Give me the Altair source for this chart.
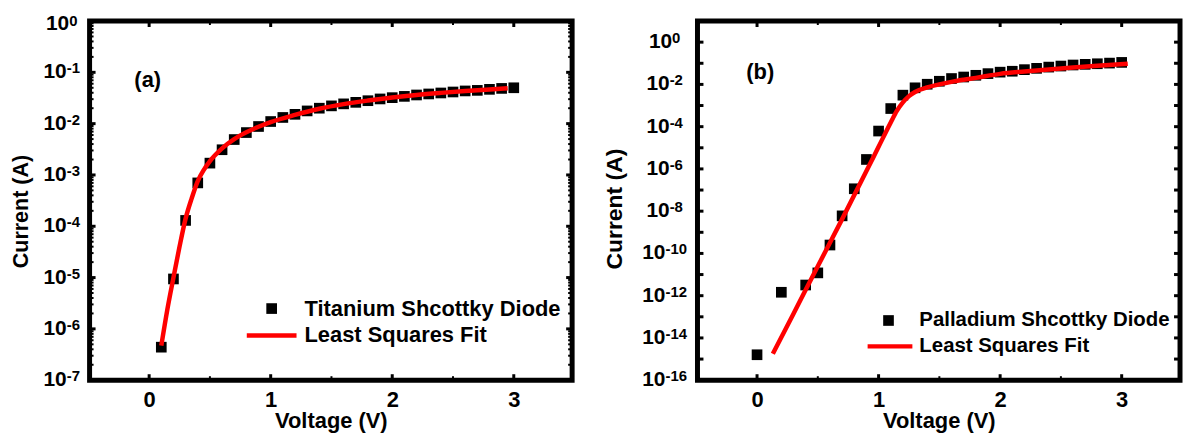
import math
import altair as alt
import pandas as pd

FONT = "Liberation Sans"

# ---------------- Panel (a): Titanium ----------------
ti_v = [0.1, 0.2, 0.3, 0.4, 0.5, 0.6, 0.7, 0.8, 0.9, 1.0,
        1.1, 1.2, 1.3, 1.4, 1.5, 1.6, 1.7, 1.8, 1.9, 2.0,
        2.1, 2.2, 2.3, 2.4, 2.5, 2.6, 2.7, 2.8, 2.9, 3.0]
ti_i = [4.4e-7, 9.4e-6, 1.3e-4, 7.0e-4, 1.7e-3, 3.1e-3, 4.9e-3, 6.7e-3, 8.8e-3, 1.10e-2,
        1.32e-2, 1.52e-2, 1.77e-2, 2.00e-2, 2.22e-2, 2.43e-2, 2.60e-2, 2.80e-2, 3.03e-2, 3.21e-2,
        3.40e-2, 3.62e-2, 3.79e-2, 3.96e-2, 4.14e-2, 4.34e-2, 4.45e-2, 4.66e-2, 4.86e-2, 5.0e-2]
ti_fit_v = [0.1, 0.15, 0.2, 0.25, 0.3, 0.35, 0.4, 0.45, 0.5, 0.6, 0.7, 0.8, 0.9, 1.0,
            1.2, 1.4, 1.6, 1.8, 2.0, 2.2, 2.4, 2.6, 2.8, 2.95]
ti_fit_i = [4.7e-7, 2.4e-6, 1.0e-5, 4.0e-5, 1.41e-4, 3.5e-4, 7.6e-4, 1.26e-3, 1.86e-3, 3.3e-3,
            5.0e-3, 6.8e-3, 8.7e-3, 1.07e-2, 1.48e-2, 1.95e-2, 2.4e-2, 2.82e-2, 3.24e-2, 3.63e-2,
            3.98e-2, 4.32e-2, 4.62e-2, 4.9e-2]

# ---------------- Panel (b): Palladium ----------------
pd_v = [0.0, 0.2, 0.4, 0.5, 0.6, 0.7, 0.8, 0.9, 1.0,
        1.1, 1.2, 1.3, 1.4, 1.5, 1.6, 1.7, 1.8, 1.9, 2.0,
        2.1, 2.2, 2.3, 2.4, 2.5, 2.6, 2.7, 2.8, 2.9, 3.0]
pd_i = [1.6e-15, 1.45e-12, 3.2e-12, 1.2e-11, 2.5e-10, 6.0e-9, 1.15e-7, 2.8e-6, 6.2e-5,
        7.2e-4, 3.1e-3, 6.9e-3, 1.02e-2, 1.41e-2, 1.9e-2, 2.24e-2, 2.7e-2, 3.24e-2, 3.8e-2,
        4.2e-2, 5.0e-2, 5.75e-2, 6.6e-2, 7.4e-2, 8.3e-2, 8.9e-2, 9.5e-2, 1.02e-1, 1.1e-1]
pd_fit_v = [0.13, 0.3, 0.5, 0.7, 0.9, 1.0, 1.1, 1.15, 1.2, 1.25, 1.3, 1.4, 1.5, 1.6,
            1.7, 1.8, 2.0, 2.2, 2.4, 2.6, 2.8, 3.05]
pd_fit_i = [1.78e-15, 1.41e-13, 2.5e-11, 4.2e-9, 7.9e-7, 1.12e-5, 1.58e-4, 5.6e-4, 1.41e-3,
            2.8e-3, 4.4e-3, 7.2e-3, 1.0e-2, 1.32e-2, 1.66e-2, 2.04e-2, 3.16e-2, 4.07e-2,
            5.1e-2, 6.3e-2, 7.6e-2, 9.5e-2]

# ---------------- Tick labels / texts ----------------
x_tick_labels = [0, 1, 2, 3]
x_minor_ticks = [0.5, 1.5, 2.5]
a_exponents = ["0", "-1", "-2", "-3", "-4", "-5", "-6", "-7"]
b_exponents = ["0", "-2", "-4", "-6", "-8", "-10", "-12", "-14", "-16"]
b_odd_exponents = [1, -1, -3, -5, -7, -9, -11, -13, -15]
a_legend = ["Titanium Shcottky Diode", "Least Squares Fit"]
b_legend = ["Palladium Shcottky Diode", "Least Squares Fit"]
panel_tags = ["(a)", "(b)"]
x_title = "Voltage (V)"
y_title = "Current (A)"

W, H = 485, 361
BASE_FS, EXP_FS = 21, 15


def panel(v, i, fv, fi, ydom, exps, odd_exps, minor, label_c, top_dy, tag, tag_xy,
          legend, leg, leg_fs, title_pad, title_y, title_fs):
    xs = alt.Scale(domain=[-0.49, 3.48], nice=False, zero=False)
    ys = alt.Scale(type="log", domain=ydom, nice=False)
    xax = alt.Axis(values=x_tick_labels, ticks=False, domain=False, grid=False,
                   labelPadding=9, titlePadding=1, format="d")
    yax = alt.Axis(labels=False, ticks=False, domain=False, grid=False,
                   titlePadding=title_pad, titleY=title_y, titleFontSize=title_fs)

    def X(f):
        return alt.X(f, scale=xs, axis=xax, title=x_title)

    def Y(f):
        return alt.Y(f, scale=ys, axis=yax, title=y_title)

    major_vals = [10.0 ** int(e) for e in exps] + [10.0 ** e for e in odd_exps]
    major_vals = [m for m in major_vals if ydom[0] <= m <= ydom[1]]
    majors = pd.DataFrame({"i": major_vals})
    layers = []

    # data points
    pts = pd.DataFrame({"v": v, "i": i})
    layers.append(alt.Chart(pts).mark_square(size=115, color="black", opacity=1).encode(
        x=X("v:Q"), y=Y("i:Q")))
    fit = pd.DataFrame({"v": fv, "i": fi})
    layers.append(alt.Chart(fit).mark_line(color="#ff0000", strokeWidth=4.5,
                                           interpolate="monotone").encode(
        x=X("v:Q"), y=Y("i:Q")))

    # major y ticks (left & right, pointing inward)
    for x0, x1 in [(0, 6), (W - 6, W)]:
        layers.append(alt.Chart(majors).mark_rule(color="black", strokeWidth=3).encode(
            y=Y("i:Q"), x=alt.value(x0), x2=alt.value(x1)))
    if minor:
        mv = []
        lo = int(round(math.log10(ydom[0])))
        hi = int(round(math.log10(ydom[1])))
        for d in range(lo, hi):
            for k in range(2, 10):
                mv.append(k * 10.0 ** d)
        minors = pd.DataFrame({"i": mv})
        for x0, x1 in [(0, 4), (W - 4, W)]:
            layers.append(alt.Chart(minors).mark_rule(color="black", strokeWidth=2).encode(
                y=Y("i:Q"), x=alt.value(x0), x2=alt.value(x1)))
    # x ticks top & bottom
    xmaj = pd.DataFrame({"v": x_tick_labels})
    xmin = pd.DataFrame({"v": x_minor_ticks})
    for df, ln, sw in [(xmaj, 6, 3), (xmin, 4, 2)]:
        for y0, y1 in [(0, ln), (H - ln, H)]:
            layers.append(alt.Chart(df).mark_rule(color="black", strokeWidth=sw).encode(
                x=X("v:Q"), y=alt.value(y0), y2=alt.value(y1)))

    # y tick labels: "10" + superscript exponent, centred on label_c
    w10 = BASE_FS * 1.112
    groups = {}
    for e in exps:
        groups.setdefault(len(e), []).append(e)
    for n, es in groups.items():
        neg = 1 if es[0].startswith("-") else 0
        wexp = EXP_FS * (0.333 * neg + 0.556 * (n - neg))
        xb = label_c - (w10 + wexp) / 2 + w10
        ddy = top_dy if es[0] == "0" else 0
        df = pd.DataFrame({"i": [10.0 ** int(e) for e in es], "base": ["10"] * len(es), "exp": es})
        layers.append(alt.Chart(df).mark_text(align="right", baseline="middle", dy=ddy,
                                              font=FONT, fontSize=BASE_FS, fontWeight="bold",
                                              color="black").encode(
            y=Y("i:Q"), x=alt.value(xb), text="base:N"))
        layers.append(alt.Chart(df).mark_text(align="left", baseline="alphabetic", dy=1 + ddy,
                                              font=FONT, fontSize=EXP_FS, fontWeight="bold",
                                              color="black").encode(
            y=Y("i:Q"), x=alt.value(xb), text="exp:N"))

    # panel tag
    layers.append(alt.Chart(pd.DataFrame({"t": [tag]})).mark_text(
        align="left", baseline="middle", font=FONT, fontSize=22, fontWeight="bold",
        color="black").encode(x=alt.value(tag_xy[0]), y=alt.value(tag_xy[1]), text="t:N"))

    # legend
    sx, sy, l0, l1, ly, tx = leg
    one = pd.DataFrame({"t": [legend[0]]})
    two = pd.DataFrame({"t": [legend[1]]})
    layers.append(alt.Chart(one).mark_square(size=115, color="black", opacity=1).encode(
        x=alt.value(sx), y=alt.value(sy)))
    layers.append(alt.Chart(two).mark_rule(color="#ff0000", strokeWidth=4.5).encode(
        x=alt.value(l0), x2=alt.value(l1), y=alt.value(ly)))
    for df, yy in [(one, sy), (two, ly)]:
        layers.append(alt.Chart(df).mark_text(align="left", baseline="middle", font=FONT,
                                              fontSize=leg_fs, fontWeight="bold",
                                              color="black").encode(
            x=alt.value(tx), y=alt.value(yy), text="t:N"))

    return alt.layer(*layers).properties(width=W, height=H)


left = panel(ti_v, ti_i, ti_fit_v, ti_fit_i, [1e-7, 1.0], a_exponents, [], True,
             -28, 3.5, panel_tags[0], (45, 59), a_legend,
             (183, 289, 158, 208, 316, 216), 22, 57, 191, 21.6)
right = panel(pd_v, pd_i, pd_fit_v, pd_fit_i, [1e-16, 10.0], b_exponents, b_odd_exponents, False,
              -33, 0, panel_tags[1], (49, 51.5), b_legend,
              (192, 301, 171, 216, 327, 223), 20.5, 71, 188.5, 23)

chart = alt.hconcat(left, right, spacing=126, bounds="flush").configure_view(
    stroke="black", strokeWidth=5
).configure_axis(
    labelFont=FONT, titleFont=FONT, labelFontSize=22, titleFontSize=22,
    labelFontWeight="bold", titleFontWeight="bold", labelColor="black", titleColor="black"
).properties(padding={"left": 0, "top": 2, "right": 0, "bottom": 0})

chart.save("out.html", embed_options={"renderer": "svg", "actions": False})
